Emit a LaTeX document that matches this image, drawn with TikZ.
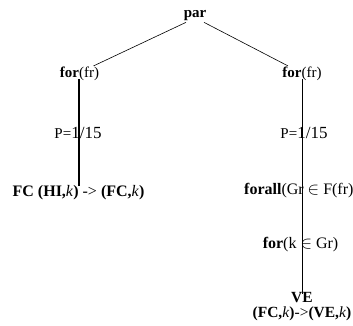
\documentclass[tikz,border=0pt]{standalone}
\usepackage{fontspec}
\setmainfont{Liberation Serif}
\begin{document}
\begin{tikzpicture}[x=1pt,y=-1pt,
  lbl/.style={inner sep=0pt, font=\fontsize{15}{17}\selectfont},
  big/.style={inner sep=0pt, font=\fontsize{16}{18}\selectfont},
  thinline/.style={line width=0.6pt},
  thickline/.style={line width=1.9pt}]
\useasboundingbox (0,0) rectangle (353,325);
\node[lbl] (par) at (195,16) {\textbf{par}};
\node[lbl] (forL) at (79.5,74) {\textbf{for}(fr)};
\node[lbl] (forR) at (302,74) {\textbf{for}(fr)};
\node[lbl] (pL) at (78,133) {{\fontsize{15}{17}\selectfont P=}{\fontsize{17}{19}\selectfont 1/15}};
\node[lbl] (pR) at (304,133) {{\fontsize{15}{17}\selectfont P=}{\fontsize{17}{19}\selectfont 1/15}};
\node[big] (fcL) at (78.5,193) {\textbf{FC (HI,}\textit{k}\textbf{)} -> \textbf{(FC,}\textit{k}\textbf{)}};
\node[big, anchor=west] (forall) at (244,190.5) {\textbf{forall}(Gr $\in$ F(fr)};
\node[big] (fork) at (300.5,245) {\textbf{for}(k $\in$ Gr)};
\node[inner sep=0pt, align=center, font=\fontsize{15.5}{15}\selectfont] (ve) at (302,307)
  {\textbf{VE}\\\textbf{(FC,}\textit{k}\textbf{)}->\textbf{(VE,}\textit{k}\textbf{)}};
\draw[thinline] ([xshift=-9pt,yshift=-1pt]par.south) -- ([xshift=14pt,yshift=1pt]forL.north);
\draw[thinline] ([xshift=9pt,yshift=-1pt]par.south) -- ([xshift=-14pt,yshift=1pt]forR.north);
\draw[thickline] (forL.south -| pL.north) ++(1pt,2pt) coordinate (l1) -- (l1 |- fcL.north);
\draw[thinline] ([yshift=2pt]forR.south) coordinate (r1) -- ([yshift=-1pt]r1 |- ve.north);
\end{tikzpicture}
\end{document}
